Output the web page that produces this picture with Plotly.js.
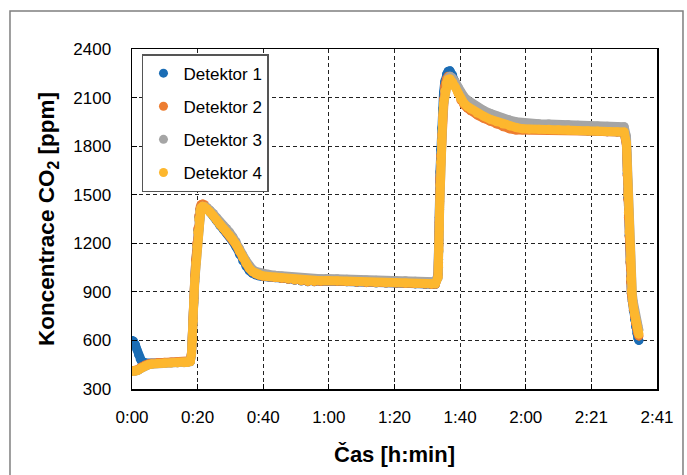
<!DOCTYPE html>
<html>
<head>
<meta charset="utf-8">
<script src="https://cdn.plot.ly/plotly-3.0.1.min.js"></script>
<style>
html,body{margin:0;padding:0;background:#fff;}
#chart{width:687px;height:475px;}
.scatterlayer .js-line{stroke-linejoin:round;stroke-linecap:round;}
</style>
</head>
<body>
<div id="chart"></div>
<script>
// time in minutes
var timeMin = [
  0,0.5,1,1.5,2,2.5,3,4,5,6,8,10,12,14,16,17,
  17.9,18.3,18.6,18.8,19.0,19.3,19.6,19.9,20.2,20.5,20.8,21.2,21.7,22.3,
  23,24,25,26,27,28,29,30,31,32,33,34,35,36,37,38,39,40,42,44,46,48,50,52,54,56,58,60,63,66,69,72,75,78,81,84,87,90,92,93.2,
  94.0,94.2,94.3,94.4,94.5,94.6,94.8,95.1,95.4,95.7,96.1,96.6,97.1,97.7,
  98.5,99.3,100.2,101,102,103,104,106,108,110,112,114,116,118,120,122,125,128,131,134,137,140,143,146,149,151.2,
  151.9,152.1,152.3,152.5,152.7,153.0,153.2,153.4,153.7,154.0,154.4,154.7,155.1,155.4,155.7
];
var detektor1 = [
  600,595,575,545,512,485,470,462,458,458,460,462,463,464,465,466,
  470,525,610,730,860,990,1090,1190,1280,1360,1405,1430,1436,1430,
  1414,1392,1368,1338,1310,1286,1265,1242,1210,1176,1132,1092,1058,1032,1015,1004,998,995,991,987,982,977,972,967,962,962,965,967,965,962,959,957,955,954,953,952,949,947,945,947,
  1010,1100,1220,1360,1500,1640,1780,1910,2030,2130,2200,2245,2262,2265,
  2240,2195,2145,2100,2068,2046,2030,2004,1983,1964,1948,1934,1923,1914,1907,1905,1904,1903,1901,1899,1896,1894,1892,1889,1888,1887,
  1810,1630,1480,1370,1250,1085,965,890,840,785,730,685,645,615,600
];
var detektor2 = [
  412,412,413,416,422,430,438,448,455,459,463,465,466,467,468,469,
  475,530,615,740,870,1000,1100,1200,1290,1370,1415,1438,1442,1438,
  1420,1398,1373,1344,1316,1292,1271,1249,1220,1190,1150,1110,1075,1045,1024,1010,1002,998,993,988,983,978,973,968,963,963,966,968,966,963,960,958,956,955,954,953,950,948,946,948,
  1000,1080,1190,1330,1460,1600,1740,1870,1990,2090,2170,2215,2232,2230,
  2205,2168,2125,2085,2055,2035,2018,1993,1972,1953,1936,1920,1907,1900,1900,1902,1903,1903,1901,1899,1896,1894,1892,1889,1888,1887,
  1800,1620,1470,1360,1240,1080,960,890,845,795,745,705,670,645,628
];
var detektor3 = [
  408,408,410,412,417,424,431,441,449,453,457,459,460,461,462,463,
  468,515,590,705,835,965,1070,1170,1260,1340,1390,1418,1428,1426,
  1422,1404,1384,1358,1332,1310,1291,1268,1240,1210,1170,1130,1094,1062,1040,1026,1018,1014,1008,1003,998,993,988,983,978,978,981,983,981,978,975,973,971,970,969,968,965,963,961,962,
  985,1050,1150,1280,1410,1550,1690,1820,1940,2050,2135,2190,2220,2232,
  2222,2198,2165,2132,2106,2086,2070,2044,2022,2003,1986,1972,1961,1951,1944,1940,1938,1936,1934,1932,1929,1927,1925,1923,1922,1920,
  1860,1700,1550,1430,1310,1140,1015,935,890,840,790,750,715,690,665
];
var detektor4 = [
  410,410,411,413,418,425,432,442,450,454,458,460,461,462,463,464,
  470,520,600,720,850,980,1080,1180,1270,1350,1395,1420,1428,1425,
  1412,1392,1370,1342,1315,1292,1272,1250,1222,1192,1152,1112,1077,1047,1026,1012,1004,1000,995,990,985,980,975,970,965,965,968,970,968,965,962,960,958,957,956,955,952,950,948,950,
  990,1060,1160,1290,1420,1560,1700,1830,1950,2060,2140,2190,2212,2215,
  2195,2165,2128,2093,2065,2045,2030,2005,1985,1966,1950,1936,1925,1915,1907,1905,1905,1904,1902,1900,1897,1895,1893,1890,1889,1888,
  1820,1650,1500,1390,1270,1100,980,905,860,810,760,720,685,660,640
];
var seriesNames = ['Detektor 1','Detektor 2','Detektor 3','Detektor 4'];
var seriesColors = ['#1B6DB5','#ED7D31','#A5A5A5','#FDB72E'];
var xTickVals = [0,20.16,40.32,60.48,80.64,100.8,120.96,141.12,161.28];
var xTickText = ['0:00','0:20','0:40','1:00','1:20','1:40','2:00','2:21','2:41'];
var yTickVals = [300,600,900,1200,1500,1800,2100,2400];

var allY = [detektor1, detektor2, detektor3, detektor4];
var traces = [];
for (var i = 0; i < 4; i++) {
  traces.push({
    x: timeMin, y: allY[i], type: 'scatter', mode: 'lines',
    line: {color: seriesColors[i], width: 9},
    showlegend: false, legendgroup: 'g' + i, hoverinfo: 'skip'
  });
  traces.push({
    x: timeMin, y: allY[i], type: 'scatter', mode: 'markers',
    name: seriesNames[i], legendgroup: 'g' + i,
    marker: {color: seriesColors[i], size: 9}
  });
}

var FONT = 'Liberation Sans, Arial, sans-serif';
var layout = {
  width: 687, height: 475,
  margin: {l: 132, r: 30, t: 49, b: 86},
  paper_bgcolor: '#ffffff', plot_bgcolor: '#ffffff',
  font: {family: FONT, color: '#000', size: 17},
  showlegend: true,
  legend: {
    x: 0.019, y: 0.985, xanchor: 'left', yanchor: 'top',
    bgcolor: '#ffffff', bordercolor: '#555555', borderwidth: 1.5,
    font: {family: FONT, size: 17, color: '#000'},
    traceorder: 'grouped', tracegroupgap: 8, itemwidth: 30
  },
  xaxis: {
    range: [0, 161.28], tickmode: 'array', tickvals: xTickVals, ticktext: xTickText,
    showgrid: true, gridcolor: '#222', griddash: '4px,3px', gridwidth: 1,
    showline: true, linecolor: '#000', linewidth: 1.5, mirror: true,
    ticks: 'inside', ticklen: 5, tickcolor: '#000',
    tickfont: {family: FONT, size: 17}, ticklabelstandoff: 12,
    zeroline: false,
    title: {text: 'Čas [h:min]', font: {family: FONT, size: 22, weight: 'bold'}, standoff: 20}
  },
  yaxis: {
    range: [300, 2400], tickmode: 'array', tickvals: yTickVals,
    showgrid: true, gridcolor: '#222', griddash: '4px,3px', gridwidth: 1,
    showline: true, linecolor: '#000', linewidth: 1.5, mirror: true,
    ticks: 'inside', ticklen: 5, tickcolor: '#000',
    tickfont: {family: FONT, size: 17}, ticklabelstandoff: 16,
    zeroline: false,
    title: {text: 'Koncentrace CO<sub>2</sub> [ppm]', font: {family: FONT, size: 22.5, weight: 'bold'}, standoff: 12}
  },
  shapes: [{
    type: 'rect', xref: 'paper', yref: 'paper',
    x0: -0.2324, x1: 1.0495, y0: -0.3, y1: 1.1118,
    line: {color: '#7f7f7f', width: 1.5}, fillcolor: 'rgba(0,0,0,0)', layer: 'above'
  }]
};

Plotly.newPlot('chart', traces, layout, {staticPlot: true, displayModeBar: false});
</script>
</body>
</html>
